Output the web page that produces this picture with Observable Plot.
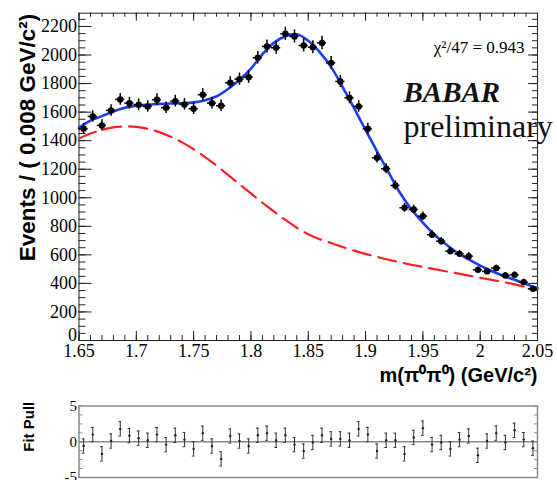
<!DOCTYPE html>
<html>
<head>
<meta charset="utf-8">
<script src="https://cdn.jsdelivr.net/npm/d3@7"></script>
<script src="https://cdn.jsdelivr.net/npm/@observablehq/plot@0.6"></script>
<style>
  body { margin: 0; background: white; }
  #chart { position: relative; width: 557px; height: 480px; background: white; overflow: hidden; }
  #chart svg { position: absolute; left: 0; }
</style>
</head>
<body>
<div id="chart"></div>
<script>
// ---- data ----
const mass = [1.654,1.662,1.670,1.678,1.686,1.694,1.702,1.710,1.718,1.726,
              1.734,1.742,1.750,1.758,1.766,1.774,1.782,1.790,1.798,1.806,
              1.814,1.822,1.830,1.838,1.846,1.854,1.862,1.870,1.878,1.886,
              1.894,1.902,1.910,1.918,1.926,1.934,1.942,1.950,1.958,1.966,
              1.974,1.982,1.990,1.998,2.006,2.014,2.022,2.030,2.038,2.046];
const events = [1483,1570,1507,1612,1689,1663,1652,1640,1687,1631,
                1677,1654,1624,1722,1663,1645,1806,1831,1845,1981,
                2060,2051,2149,2130,2067,2055,2085,1945,1815,1700,
                1640,1483,1280,1203,1086,930,918,871,741,696,
                626,607,591,495,484,507,455,460,409,362];
const pulls = [-0.6,1.0,-1.7,0.1,1.8,0.85,0.5,0.2,1.0,-0.4,
               0.9,0.3,-1.0,1.2,-0.6,-2.4,0.8,0.1,-0.6,0.9,
               1.2,0.2,0.9,-0.4,-1.3,-0.1,0.9,0.4,0.4,0.2,
               1.8,1.0,-1.3,0.2,0.2,-1.7,0.6,1.9,-0.4,-0.1,
               -1.0,0.3,0.8,-1.9,0.1,1.2,-0.1,1.6,0.3,-0.9];
const fitMass = [1.65,1.66,1.67,1.68,1.69,1.70,1.71,1.72,1.73,1.74,
                 1.75,1.76,1.77,1.78,1.79,1.80,1.81,1.82,1.83,1.84,
                 1.85,1.86,1.87,1.88,1.89,1.90,1.91,1.92,1.93,1.94,
                 1.95,1.96,1.97,1.98,1.99,2.00,2.01,2.02,2.03,2.04,2.05];
const fitTotal = [1490,1540,1572,1605,1630,1645,1652,1657,1660,1662,
                  1668,1683,1710,1762,1825,1905,2005,2085,2132,2145,
                  2100,2020,1915,1775,1628,1475,1325,1180,1035,920,
                  825,742,675,615,568,525,487,455,425,395,368];
const fitBkg = [1415,1450,1475,1493,1500,1496,1483,1460,1428,1388,
                1340,1285,1225,1160,1095,1030,965,905,845,790,
                745,710,683,655,630,607,586,566,548,531,
                515,500,485,470,455,440,425,410,393,375,357];
const xTicks = [1.65,1.7,1.75,1.8,1.85,1.9,1.95,2,2.05];
const xTickLabels = ["1.65","1.7","1.75","1.8","1.85","1.9","1.95","2","2.05"];
const yTicks = [0,200,400,600,800,1000,1200,1400,1600,1800,2000,2200];
const yTickLabels = ["0","200","400","600","800","1000","1200","1400","1600","1800","2000","2200"];
const pullTicks = [-5,0,5];
const pullTickLabels = ["-5","0","5"];
const chi2Text = "χ²/47 = 0.943";

// ---- derived tables ----
const data = mass.map((m, i) => ({m, n: events[i], e: Math.sqrt(events[i]), p: pulls[i]}));
const fit = fitMass.map((m, i) => ({m, tot: fitTotal[i], bkg: fitBkg[i]}));
const xLab = new Map(xTicks.map((d, i) => [d, xTickLabels[i]]));
const yLab = new Map(yTicks.map((d, i) => [d, yTickLabels[i]]));
const pLab = new Map(pullTicks.map((d, i) => [d, pullTickLabels[i]]));

const X0 = 1.65, X1 = 2.05, YTOP = 2293;
const mL = 78.5, mR = 20, mT = 12.7, mB = 58, H = 398;
const xpp = (X1 - X0) / (557 - mL - mR);
const ypp = YTOP / (H - mT - mB);
const yMinor = d3.range(0, YTOP, 50);
const xMinor = d3.range(0, 41).map(i => X0 + i * 0.01);
const serif = "Liberation Serif, Times New Roman, serif";
const sans = "Liberation Sans, Arial, sans-serif";
const ink = "#222";

const main = Plot.plot({
  width: 557, height: H,
  marginLeft: mL, marginRight: mR, marginTop: mT, marginBottom: mB,
  x: {domain: [X0, X1]},
  y: {domain: [0, YTOP]},
  style: {fontFamily: serif, background: "white", color: "black", overflow: "visible"},
  marks: [
    // inner ticks
    Plot.ruleY(yTicks, {y: d => d, x1: X0, x2: X0 + 13 * xpp, stroke: ink}),
    Plot.ruleY(yMinor, {y: d => d, x1: X0, x2: X0 + 7 * xpp, stroke: ink}),
    Plot.ruleY(yTicks, {y: d => d, x1: X1 - 9 * xpp, x2: X1, stroke: ink}),
    Plot.ruleY(yMinor, {y: d => d, x1: X1 - 5 * xpp, x2: X1, stroke: ink}),
    Plot.ruleX(xTicks, {x: d => d, y1: 0, y2: 9 * ypp, stroke: ink}),
    Plot.ruleX(xMinor, {x: d => d, y1: 0, y2: 5 * ypp, stroke: ink}),
    Plot.ruleX(xTicks, {x: d => d, y1: YTOP - 8 * ypp, y2: YTOP, stroke: ink}),
    Plot.ruleX(xMinor, {x: d => d, y1: YTOP - 4 * ypp, y2: YTOP, stroke: ink}),
    Plot.frame({stroke: ink, strokeWidth: 1}),
    Plot.axisX(xTicks, {tickSize: 0, tickPadding: 4, tickFormat: d => xLab.get(d), fontSize: 18, fontFamily: serif, label: null}),
    Plot.axisY(yTicks.filter(d => d > 0), {tickSize: 0, tickPadding: 2, tickFormat: d => yLab.get(d), fontSize: 18, fontFamily: serif, label: null}),
    Plot.text([0], {x: X0, y: d => d, text: d => yLab.get(d), textAnchor: "end", dx: -2, dy: -5, fontSize: 18, fontFamily: serif, fill: "black"}),
    // fit curves
    Plot.line(fit, {x: "m", y: "bkg", stroke: "#ff2020", strokeWidth: 2.2, strokeDasharray: "18,8", curve: "catmull-rom"}),
    Plot.line(fit, {x: "m", y: "tot", stroke: "#1e3cf5", strokeWidth: 2.6, curve: "catmull-rom"}),
    // data with error bars
    Plot.ruleX(data, {x: "m", y1: d => d.n - d.e, y2: d => d.n + d.e, stroke: "black", strokeWidth: 1.5}),
    Plot.ruleY(data, {y: "n", x1: d => d.m - 0.004, x2: d => d.m + 0.004, stroke: "black", strokeWidth: 1.5}),
    Plot.dot(data, {x: "m", y: "n", r: 3.2, fill: "black", stroke: "none"}),
    // annotations
    Plot.text([chi2Text], {frameAnchor: "top-right", dx: -13, dy: 28, textAnchor: "end", fontSize: 17, fontFamily: serif, fill: "black"}),
    Plot.text(["BABAR"], {frameAnchor: "top-right", dx: -134, dy: 68, textAnchor: "start", fontSize: 29, fontFamily: serif, fontWeight: "bold", fontStyle: "italic", fill: "#111"}),
    Plot.text(["preliminary"], {frameAnchor: "top-right", dx: -134, dy: 101, textAnchor: "start", fontSize: 32, fontFamily: serif, fill: "#111"}),
    Plot.text(["Events / ( 0.008 GeV/c²)"], {frameAnchor: "top-left", dx: -60, dy: 0.5, rotate: -90, textAnchor: "end", fontSize: 22.5, fontFamily: sans, fontWeight: "bold", fill: "black"}),
    Plot.text(["m(π⁰π⁰) (GeV/c²)"], {frameAnchor: "bottom-right", dx: 0, dy: 41, textAnchor: "end", fontSize: 20, fontFamily: sans, fontWeight: "bold", fill: "black"})
  ]
});
main.style.top = "0px";

// ---- pull panel ----
const pH = 85, pT = 10.5, pB = 3;
const pMinor = d3.range(-5, 5.01, 1.25);
const grey = "#8a8a8a";
const pull = Plot.plot({
  width: 557, height: pH,
  marginLeft: mL, marginRight: mR, marginTop: pT, marginBottom: pB,
  x: {domain: [X0, X1], axis: null},
  y: {domain: [-5, 5]},
  style: {fontFamily: serif, background: "transparent", color: "black", overflow: "visible"},
  marks: [
    Plot.ruleY(pMinor, {y: d => d, x1: X0, x2: X0 + 4 * xpp, stroke: grey}),
    Plot.ruleY(pMinor, {y: d => d, x1: X1 - 3 * xpp, x2: X1, stroke: grey}),
    Plot.ruleY([0], {stroke: grey, strokeWidth: 1.5}),
    Plot.frame({stroke: grey, strokeWidth: 1.5}),
    Plot.axisY(pullTicks, {tickSize: 0, tickPadding: 2, tickFormat: d => pLab.get(d), fontSize: 15, fontFamily: serif, label: null}),
    Plot.ruleX(data, {x: "m", y1: d => d.p - 1, y2: d => d.p + 1, stroke: "#333", strokeWidth: 1}),
    Plot.ruleY(data, {y: d => d.p - 1, x1: d => d.m - 0.0012, x2: d => d.m + 0.0012, stroke: "#333", strokeWidth: 1}),
    Plot.ruleY(data, {y: d => d.p + 1, x1: d => d.m - 0.0012, x2: d => d.m + 0.0012, stroke: "#333", strokeWidth: 1}),
    Plot.dot(data, {x: "m", y: "p", r: 1.2, fill: "#222", stroke: "none"}),
    Plot.text(["Fit Pull"], {frameAnchor: "left", dx: -49.5, dy: -15, rotate: -90, textAnchor: "middle", fontSize: 15, fontFamily: sans, fontWeight: "bold", fill: "black"})
  ]
});
pull.style.top = "395px";

const chart = document.getElementById("chart");
chart.appendChild(main);
chart.appendChild(pull);
</script>
</body>
</html>
